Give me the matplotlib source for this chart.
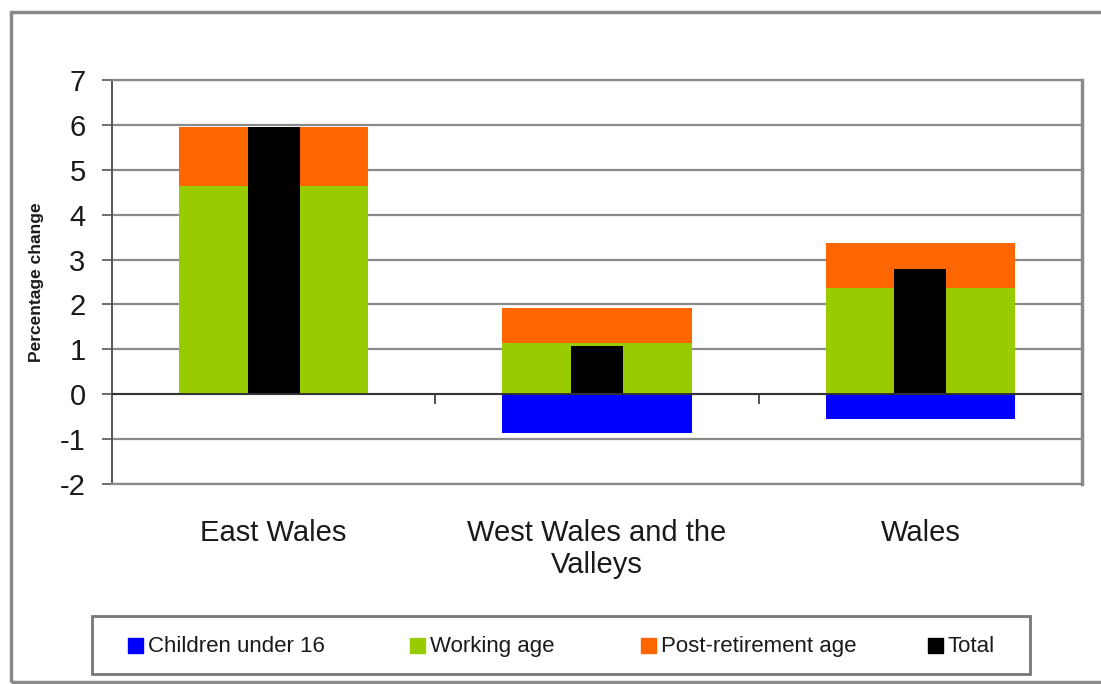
import matplotlib.pyplot as plt
from matplotlib.patches import Rectangle
import numpy as np

plt.rcParams['font.family'] = ['Liberation Sans', 'DejaVu Sans']
plt.rcParams['axes.unicode_minus'] = False

# Percentage change in population by age group
regions = ["East Wales", "West Wales and the\nValleys", "Wales"]
children = [0.0, -0.87, -0.56]
working_age = [4.64, 1.13, 2.36]
post_retirement = [1.32, 0.80, 1.00]
total = [5.96, 1.07, 2.80]

series_names = ["Children under 16", "Working age", "Post-retirement age", "Total"]
series_colors = ["#0000ff", "#99cc00", "#ff6600", "black"]

W, H = 1101, 684
fig = plt.figure(figsize=(W / 100, H / 100), dpi=100)
ax = fig.add_axes([112 / W, 1 - 484 / H, (1082 - 112) / W, (484 - 80) / H])

x = np.arange(len(regions))
wide = 0.585
narrow = 0.16

ax.bar(x, children, width=wide, color=series_colors[0], zorder=2)
ax.bar(x, working_age, width=wide, color=series_colors[1], zorder=2)
ax.bar(x, post_retirement, width=wide, bottom=working_age, color=series_colors[2], zorder=2)
ax.bar(x, total, width=narrow, color=series_colors[3], zorder=3)

# category axis sits at zero
ax.axhline(0, color="#333333", lw=1.4, zorder=4)
ax.vlines([0.5, 1.5], -0.22, 0, color="#333333", lw=1.2, zorder=4)

ax.set_xlim(-0.5, 2.5)
ax.set_ylim(-2, 7)
ax.set_yticks(range(-2, 8))
ax.yaxis.grid(True, color="#8a8a8a", lw=1.6, zorder=0)
ax.set_axisbelow(True)

ax.set_xticks(x)
ax.set_xticklabels(regions, fontsize=21, color="#1a1a1a")
ax.tick_params(axis="x", length=0, pad=25)
ax.tick_params(axis="y", labelsize=21, labelcolor="#1a1a1a", length=7,
               width=1.2, color="#555555", pad=12)

for side in ["top", "bottom"]:
    ax.spines[side].set_color("#8a8a8a")
    ax.spines[side].set_linewidth(1.6)
ax.spines["left"].set_color("#555555")
ax.spines["left"].set_linewidth(1.4)
ax.spines["right"].set_color("#8a8a8a")
ax.spines["right"].set_linewidth(2.5)

fig.text(37 / W, 1 - 282 / H, "Percentage change", rotation=90,
         ha="center", va="center", fontsize=12.5, fontweight="bold", color="#1a1a1a")

# legend box along the bottom, one row
fig.patches.append(Rectangle((92 / W, 1 - 674 / H), (1030 - 92) / W, (674 - 616) / H,
                             transform=fig.transFigure, fill=False,
                             edgecolor="#777777", lw=2))
key_x = [128, 410, 641, 928]
for kx, name, col in zip(key_x, series_names, series_colors):
    fig.patches.append(Rectangle((kx / W, 1 - 653 / H), 15 / W, 15 / H,
                                 transform=fig.transFigure, color=col))
    fig.text((kx + 20) / W, 1 - 652 / H, name, fontsize=16, color="#1a1a1a",
             ha="left", va="baseline")

# outer chart border
fig.patches.append(Rectangle((11 / W, 1 - 682 / H), 1.0, (682 - 12) / H,
                             transform=fig.transFigure, fill=False,
                             edgecolor="#8a8a8a", lw=2.5))

fig.savefig("out.png", dpi=100)
